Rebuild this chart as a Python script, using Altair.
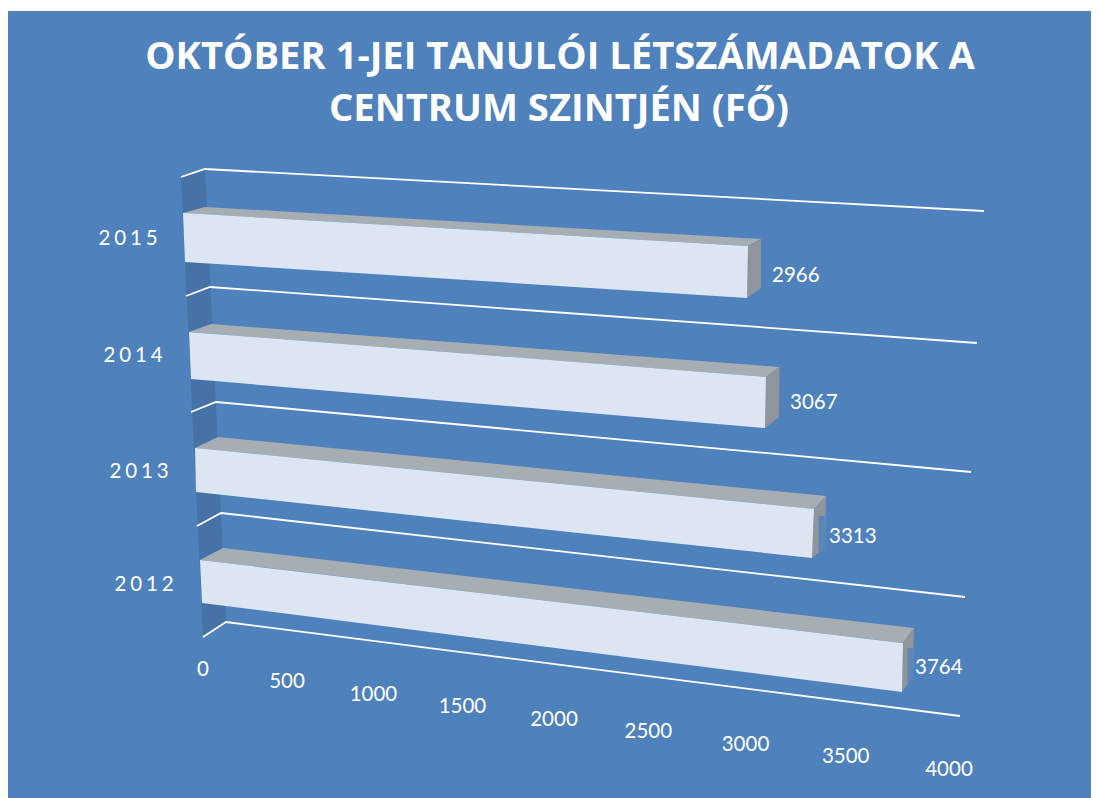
import altair as alt
import pandas as pd

# ---- chart values ----
YEARS = ["2012", "2013", "2014", "2015"]
VALUES = [3764, 3313, 3067, 2966]
TICKS = [0, 500, 1000, 1500, 2000, 2500, 3000, 3500, 4000]
TITLE_LINES = ["OKTÓBER 1-JEI TANULÓI LÉTSZÁMADATOK A", "CENTRUM SZINTJÉN (FŐ)"]

# ---- view geometry of the tilted 3-D scene (one entry per bar row) ----
# each edge: start at value 0, and screen shift per unit of value
FRONT_TOP = [((200, 560), (.18677, .02205)), ((195, 448), (.18684, .01841)),
             ((189, 332), (.18813, .01467)), ((183, 213), (.1905, .01113))]
FRONT_BOT = [((202, 603), (.18597, .02364)), ((196, 492), (.18593, .01992)),
             ((191, 379), (.18715, .01598)), ((185, 262), (.1895, .01214))]
BACK_TOP = [((223, 548), (.18358, .02125)), ((218, 437), (.18352, .01781)),
            ((211, 324), (.18536, .01402)), ((205, 207), (.18746, .01079))]
BACK_BOT = [((225, 591), (.18278, .02285)), ((220, 481), (.18261, .02022)),
            ((213, 371), (.18454, .015)), ((207, 255), (.18678, .0111))]
FLOOR = [[(203, 637), (226, 622), (960, 716)], [(197, 526), (221, 513), (965, 597)],
         [(191, 412), (216, 402), (971, 472)], [(186, 296), (210, 287), (977, 343)],
         [(181, 177), (205, 169), (984, 211)]]
WALL = [(181, 177), (205, 169), (226, 622), (203, 637)]
YEAR_POS = [(144, 585), (139, 472), (133, 356), (128, 239)]
LABEL_OFF = [(1, 40), (3, 41), (10.5, 36.5), (11, 37)]
TITLE_POS = [(560, 58), (559, 110)]

BG = "#4F81BD"
FONT = "Lato"


def at(edge, v):
    (x, y), (dx, dy) = edge
    return (x + dx * v, y + dy * v)


def poly(pts, name):
    """Convex polygon -> rows for an area mark (x, y, y2)."""
    rows = []
    n = len(pts)
    for x in sorted({p[0] for p in pts}):
        ys = []
        for i in range(n):
            (x1, y1), (x2, y2) = pts[i], pts[(i + 1) % n]
            if x1 == x2:
                if x == x1:
                    ys += [y1, y2]
            elif min(x1, x2) <= x <= max(x1, x2):
                ys.append(y1 + (y2 - y1) * (x - x1) / (x2 - x1))
        rows.append({"x": x, "y": min(ys), "y2": max(ys), "face": name})
    return rows


front, top, side, patch, lab = [], [], [], [], []
for i, (yr, v) in enumerate(zip(YEARS, VALUES)):
    ft0, fb0, bt0 = FRONT_TOP[i][0], FRONT_BOT[i][0], BACK_TOP[i][0]
    ft, fb = at(FRONT_TOP[i], v), at(FRONT_BOT[i], v)
    bt, bb = at(BACK_TOP[i], v), at(BACK_BOT[i], v)
    front += poly([ft0, ft, fb, fb0], yr)
    top += poly([ft0, bt0, bt, ft], yr)
    side += poly([bt, bb, fb, ft], yr)
    lab.append({"x": bt[0] + LABEL_OFF[i][0], "y": bt[1] + LABEL_OFF[i][1], "t": str(v)})
    if LABEL_OFF[i][0] < 5:  # the label's box overlaps the bar's end face
        px = fb[0] + (bb[0] - fb[0]) * .5
        w = bb[0]
        ytop = bt[1] + 20
        ybot = fb[1] + (bb[1] - fb[1]) * .5
        patch += poly([(px, ytop), (w, ytop), (w, bb[1]), (px, ybot)], yr)

grid = []
for j, line in enumerate(FLOOR):
    for k, (x, y) in enumerate(line):
        grid.append({"x": x, "y": y, "id": j, "k": k})

ticks = [{"x": (203 + 160.07 * t / 1000) / (1 - .02785 * t / 1000), "y": 669.5 + 25 * t / 1000, "t": str(t)}
         for t in TICKS]
years = [{"x": p[0], "y": p[1], "t": "\u2009\u200a".join(y)} for y, p in zip(YEARS, YEAR_POS)]
titles = [{"x": p[0], "y": p[1], "t": t} for t, p in zip(TITLE_LINES, TITLE_POS)]

X = alt.X("x:Q", axis=None, scale=alt.Scale(domain=[8, 1091], range=[0, 1083]))
Y = alt.Y("y:Q", axis=None, scale=alt.Scale(domain=[11, 798], range=[0, 787]))


def faces(rows, color):
    return alt.Chart(pd.DataFrame(rows)).mark_area(color=color, orient="vertical", interpolate="linear").encode(
        x=X, y=Y, y2="y2:Q", detail="face:N")


def texts(rows, size, weight="normal", align="center", font=FONT):
    return alt.Chart(pd.DataFrame(rows)).mark_text(
        color="white", fontSize=size, fontWeight=weight, font=font, align=align, baseline="middle"
    ).encode(x=X, y=Y, text="t:N")


layers = [
    faces(poly(WALL, "wall"), "#4672A8"),
    alt.Chart(pd.DataFrame(grid)).mark_line(color="white", strokeWidth=1.8).encode(x=X, y=Y, detail="id:N", order="k:Q"),
    faces(top, "#A6AEB4"),
    faces(side, "#8E959B"),
    faces(patch, "#5C86B8"),
    faces(front, "#DCE6F2"),
    texts(lab, 20.5, align="left"),
    texts(ticks, 20.5),
    texts(years, 20.5),
    texts(titles, 38.2, weight="bold", font="Open Sans"),
]

chart = alt.layer(*layers).properties(
    width=1083, height=787,
    padding={"left": 0, "right": 0, "top": 3, "bottom": 0},
    autosize=alt.AutoSizeParams(type="none"),
    background="white",
).configure_view(fill=BG, stroke=None)

chart.save("out.html", embed_options={"renderer": "svg", "actions": False})
